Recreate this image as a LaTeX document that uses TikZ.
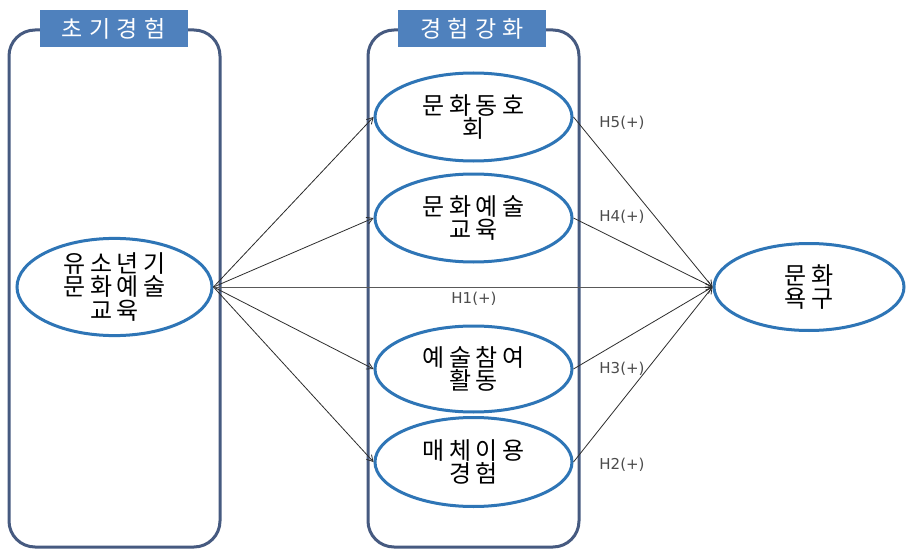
\documentclass[tikz,border=0pt]{standalone}
\usepackage{fontspec}
\newfontfamily\krfont[LetterSpace=20]{Noto Sans CJK KR}
\newfontfamily\tabfont[LetterSpace=28]{Noto Sans CJK KR}
\newfontfamily\labelfont{DejaVu Sans}
\usetikzlibrary{shapes.geometric,arrows.meta}
\definecolor{framecol}{RGB}{70,90,128}
\definecolor{tabcol}{RGB}{79,129,189}
\definecolor{ovalcol}{RGB}{46,117,182}
\definecolor{linecol}{RGB}{45,45,45}
\begin{document}
\begin{tikzpicture}[x=1pt,y=-1pt,
  frame/.style={draw=framecol,line width=3pt,rounded corners=26pt},
  tab/.style={fill=tabcol,text=white,minimum width=148pt,minimum height=37pt,
    inner sep=0pt,font=\tabfont\fontsize{23}{25}\selectfont},
  oval/.style={ellipse,draw=ovalcol,line width=3pt,fill=white,inner sep=0pt,
    align=center,font=\krfont\fontsize{24}{23.5}\selectfont},
  link/.style={draw=linecol,line width=0.8pt,-{Straight Barb[length=6pt,width=7pt]}},
  hyp/.style={font=\labelfont\fontsize{15}{17}\selectfont,text=black!70}]
\useasboundingbox (0,0) rectangle (906,551);
\fill[white] (0,0) rectangle (906,551);

% the two column frames with their title tabs
\draw[frame] (9,30) rectangle (220,547);
\draw[frame] (368,30) rectangle (579,547);
\node[tab] (t1) at (113.5,28.5) {초기경험};
\node[tab] (t2) at (472,28.5) {경험강화};

% constructs
\node[oval,minimum width=195pt,minimum height=86pt] (L) at (114.5,287) {유소년기\\문화예술\\교육};
\node[oval,minimum width=197pt,minimum height=88pt] (M1) at (473.5,117) {문화동호\\회};
\node[oval,minimum width=197pt,minimum height=88pt] (M2) at (473.5,218) {문화예술\\교육};
\node[oval,minimum width=197pt,minimum height=86pt] (M3) at (473.5,369) {예술참여\\활동};
\node[oval,minimum width=197pt,minimum height=89pt] (M4) at (473.5,462) {매체이용\\경험};
\node[oval,minimum width=190pt,minimum height=87pt] (R) at (809,287) {문화\\욕구};

% paths
\foreach \m in {M1,M2,M3,M4} \draw[link] (L.east) -- (\m.west);
\draw[link,draw=black!65] (L.east) -- (R.west);
\foreach \m in {M1,M2,M3,M4} \draw[link] (\m.east) -- (R.west);

% hypothesis labels
\node[hyp] (h5) at (622,123) {H5(+)};
\node[hyp] (h4) at (622,217) {H4(+)};
\node[hyp] (h1) at (474,299) {H1(+)};
\node[hyp] (h3) at (622,369) {H3(+)};
\node[hyp] (h2) at (622,465) {H2(+)};
\end{tikzpicture}
\end{document}
